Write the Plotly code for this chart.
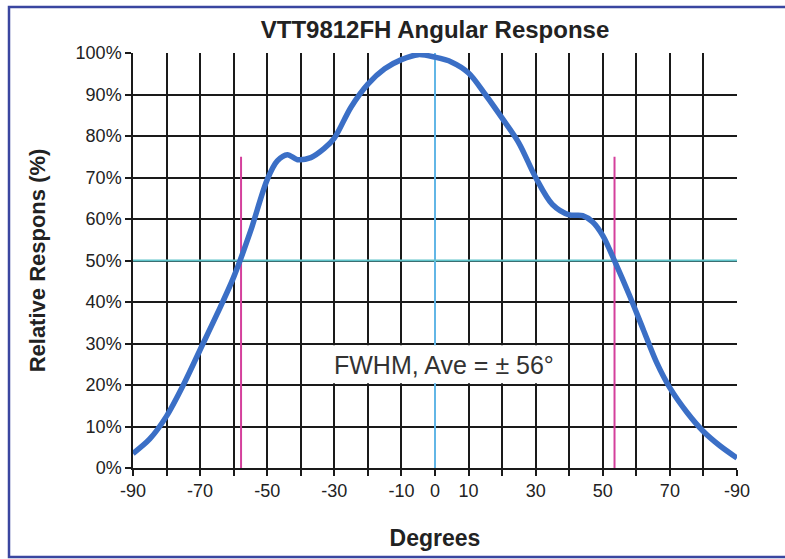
import plotly.graph_objects as go

# ---- data ----
angles = [-90, -85, -80, -75, -70, -65, -60, -55, -50, -47, -44, -41, -37, -33, -30, -25, -20, -15, -10, -5, 0,
          5, 10, 15, 20, 25, 30, 35, 40, 44, 47, 50, 54, 58, 62, 66, 70, 75, 80, 85, 90]
response = [3.5, 7, 12.5, 20, 28.5, 37, 46, 57, 69.5, 74, 75.5, 74.3, 74.8, 77, 79.5, 87, 92.5, 96.2, 98.4, 99.6, 99,
            97.8, 95.2, 90, 84.3, 78.3, 70, 63.5, 61, 60.8, 59.3, 56, 49, 41.5, 33.5, 25.5, 19.3, 13.5, 8.8, 5.3, 2.4]

x_tick_vals = [-90, -80, -70, -60, -50, -40, -30, -20, -10, 0, 10, 20, 30, 40, 50, 60, 70, 80, 90]
x_tick_text = ["-90", "", "-70", "", "-50", "", "-30", "", "-10", "0", "10", "", "30", "", "50", "", "70", "", "-90"]
y_tick_vals = [0, 10, 20, 30, 40, 50, 60, 70, 80, 90, 100]
y_tick_text = ["0%", "10%", "20%", "30%", "40%", "50%", "60%", "70%", "80%", "90%", "100%"]

fwhm_left = -57.8
fwhm_right = 53.5
fwhm_marker_top = 75
half_max = 50
center_angle = 0
note_text = "FWHM, Ave = ± 56°"
note_pos = (2.8, 24.8)
note_box = (-31, 39.5, 20.4, 29.6)

FONT = "Liberation Sans, Arial, sans-serif"

W, H = 785, 559
ML, MR, MT, MB = 133, 48, 53, 91
PW, PH = W - ML - MR, H - MT - MB


def px_to_paper_x(px):
    return (px - ML) / PW


def px_to_paper_y(py):
    return (H - MB - py) / PH


fig = go.Figure()
fig.add_trace(go.Scatter(
    x=angles, y=response, mode="lines",
    line=dict(color="#3b6fc6", width=5.5, shape="spline", smoothing=0.9),
    hoverinfo="x+y", showlegend=False,
))

shapes = [
    # cyan reference lines
    dict(type="line", xref="x", yref="y", x0=center_angle, x1=center_angle, y0=0, y1=100,
         line=dict(color="#62b6e6", width=2), layer="between"),
    dict(type="line", xref="x", yref="y", x0=-90, x1=90, y0=half_max, y1=half_max,
         line=dict(color="#5fc4ca", width=2), layer="between"),
    # magenta FWHM markers
    dict(type="line", xref="x", yref="y", x0=fwhm_left, x1=fwhm_left, y0=0, y1=fwhm_marker_top,
         line=dict(color="#d4409c", width=2), layer="between"),
    dict(type="line", xref="x", yref="y", x0=fwhm_right, x1=fwhm_right, y0=0, y1=fwhm_marker_top,
         line=dict(color="#d4409c", width=2), layer="between"),
    # white box behind the note
    dict(type="rect", xref="x", yref="y", x0=note_box[0], x1=note_box[1], y0=note_box[2], y1=note_box[3],
         fillcolor="white", line=dict(width=0), layer="between"),
    # outer blue frame (open on the right edge of the picture)
    dict(type="rect", xref="paper", yref="paper",
         x0=px_to_paper_x(9), x1=px_to_paper_x(W + 10),
         y0=px_to_paper_y(557), y1=px_to_paper_y(7),
         line=dict(color="#3a46a0", width=2.5), fillcolor="rgba(0,0,0,0)", layer="below"),
]

fig.update_layout(
    width=W, height=H,
    margin=dict(l=ML, r=MR, t=MT, b=MB),
    paper_bgcolor="white", plot_bgcolor="white",
    font=dict(family=FONT, color="#222222"),
    title=dict(text="<b>VTT9812FH Angular Response</b>", x=0.5, xref="paper", xanchor="center",
               y=(H - 30) / H, yanchor="middle", font=dict(size=24, family=FONT, color="#222222")),
    shapes=shapes,
    annotations=[dict(x=note_pos[0], y=note_pos[1], xref="x", yref="y", text=note_text, showarrow=False,
                      font=dict(size=25, family=FONT, color="#333333"))],
    showlegend=False,
)

fig.update_xaxes(
    range=[-90, 90], tickmode="array", tickvals=x_tick_vals, ticktext=x_tick_text,
    showgrid=True, gridcolor="#1a1a1a", gridwidth=1.5,
    showline=True, linecolor="#1a1a1a", linewidth=1.5, zeroline=False,
    ticks="outside", ticklen=6, tickwidth=1.5, tickcolor="#1a1a1a",
    tickfont=dict(size=18, family=FONT, color="#222222"),
    title=dict(text="<b>Degrees</b>", font=dict(size=23, family=FONT, color="#222222"), standoff=30),
    automargin=False, fixedrange=True,
)
fig.update_yaxes(
    range=[0, 100], tickmode="array", tickvals=y_tick_vals, ticktext=y_tick_text,
    showgrid=True, gridcolor="#1a1a1a", gridwidth=1.5,
    showline=True, linecolor="#1a1a1a", linewidth=1.5, zeroline=False,
    ticks="outside", ticklen=6, tickwidth=1.5, tickcolor="#1a1a1a",
    tickfont=dict(size=18, family=FONT, color="#222222"),
    title=dict(text="<b>Relative Respons (%)</b>", font=dict(size=22, family=FONT, color="#222222"), standoff=24),
    automargin=False, fixedrange=True,
)

fig.write_html(
    "out.html",
    config={"displayModeBar": False},
    post_script="document.body.style.margin='0px';document.body.style.overflow='hidden';",
)
